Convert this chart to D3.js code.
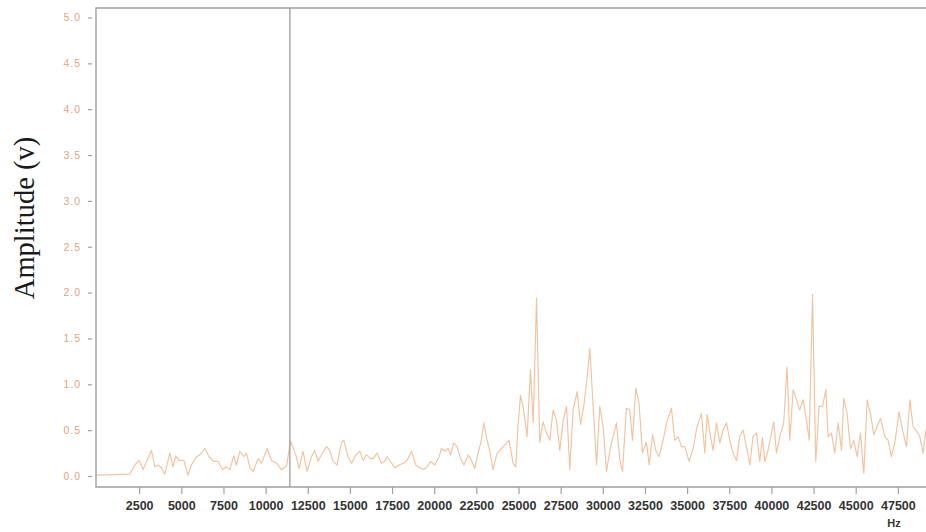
<!DOCTYPE html>
<html>
<head>
<meta charset="utf-8">
<script src="https://cdn.jsdelivr.net/npm/d3@7"></script>
<style>
  body { margin: 0; background: #fff; }
  svg { display: block; }
</style>
</head>
<body>
<svg id="chart" width="926" height="532"></svg>
<script>
// Spectrum samples: frequency (Hz) and amplitude (V)
const freqHz = [
  0, 1950, 2240, 2500, 2730, 3230, 3430, 3620, 3830, 4020, 4320, 4510, 4670, 4870, 5150, 5400,
  5600, 5900, 6100, 6390, 6650, 6930, 7180, 7440, 7680, 7880, 8110, 8270, 8470, 8710, 8870, 9060,
  9260, 9560, 9760, 10090, 10350, 10650, 10940, 11240, 11480, 11790, 11990, 12220, 12460, 12720,
  12920, 13110, 13370, 13610, 13810, 14000, 14240, 14500, 14640, 14890, 15100, 15350, 15590, 15780,
  15980, 16220, 16380, 16610, 16870, 17070, 17210, 17470, 17660, 17920, 18160, 18390, 18650, 18910,
  19150, 19340, 19540, 19780, 20040, 20290, 20430, 20630, 20820, 20970, 21160, 21360, 21560, 21760,
  22010, 22210, 22410, 22600, 22800, 22940, 23140, 23300, 23490, 23730, 23990, 24190, 24440, 24680,
  24840, 24980, 25120, 25270, 25510, 25710, 25870, 26070, 26260, 26460, 26660, 26860, 27050, 27250,
  27450, 27650, 27850, 28040, 28240, 28480, 28680, 28870, 29070, 29230, 29630, 29820, 30020, 30220,
  30460, 30810, 31010, 31170, 31400, 31600, 31760, 31960, 32150, 32350, 32590, 32750, 32950, 33140,
  33340, 33580, 33780, 34070, 34270, 34470, 34670, 34860, 35120, 35360, 35590, 35850, 36050, 36190,
  36390, 36540, 36740, 36940, 37130, 37340, 37530, 37730, 37930, 38120, 38320, 38520, 38720, 38910,
  39120, 39310, 39470, 39610, 39800, 40010, 40140, 40300, 40500, 40730, 40930, 41090, 41290, 41490,
  41680, 41880, 42080, 42240, 42440, 42630, 42830, 43030, 43230, 43360, 43560, 43760, 43960, 44160,
  44290, 44490, 44690, 44890, 45080, 45280, 45480, 45680, 45880, 46070, 46270, 46470, 46730, 46920,
  47120, 47320, 47570, 47780, 48010, 48210, 48400, 48610, 48800, 49000, 49160, 49350
];
const amplitude = [
  0.01, 0.02, 0.12, 0.17, 0.07, 0.28, 0.10, 0.12, 0.09, 0.02, 0.25, 0.10, 0.22, 0.17, 0.17, 0.01,
  0.12, 0.21, 0.23, 0.30, 0.21, 0.16, 0.16, 0.07, 0.10, 0.07, 0.22, 0.12, 0.27, 0.21, 0.25, 0.09,
  0.05, 0.19, 0.14, 0.30, 0.17, 0.14, 0.07, 0.11, 0.38, 0.23, 0.08, 0.27, 0.05, 0.21,
  0.28, 0.16, 0.25, 0.32, 0.28, 0.16, 0.12, 0.37, 0.39, 0.21, 0.14, 0.23, 0.27, 0.17,
  0.23, 0.19, 0.19, 0.25, 0.14, 0.16, 0.21, 0.14, 0.09, 0.12, 0.14, 0.17, 0.27, 0.12,
  0.09, 0.07, 0.09, 0.16, 0.12, 0.21, 0.30, 0.27, 0.30, 0.23, 0.36, 0.32, 0.19, 0.12,
  0.23, 0.17, 0.08, 0.25, 0.39, 0.58, 0.39, 0.27, 0.07, 0.25, 0.30, 0.34, 0.39, 0.14,
  0.10, 0.58, 0.88, 0.76, 0.43, 1.16, 0.58, 1.94, 0.37, 0.59, 0.47, 0.39, 0.72, 0.61,
  0.28, 0.61, 0.76, 0.07, 0.72, 0.92, 0.56, 0.76, 1.08, 1.39, 0.12, 0.76, 0.54, 0.05,
  0.32, 0.58, 0.17, 0.05, 0.74, 0.72, 0.39, 0.96, 0.79, 0.25, 0.37, 0.12, 0.45, 0.28,
  0.21, 0.39, 0.58, 0.74, 0.39, 0.43, 0.32, 0.32, 0.16, 0.30, 0.54, 0.68, 0.25, 0.67,
  0.43, 0.28, 0.58, 0.36, 0.50, 0.58, 0.39, 0.25, 0.17, 0.43, 0.50, 0.32, 0.12, 0.43,
  0.47, 0.16, 0.42, 0.16, 0.28, 0.47, 0.59, 0.25, 0.43, 0.58, 1.19, 0.39, 0.94, 0.83,
  0.72, 0.83, 0.61, 0.39, 1.98, 0.16, 0.76, 0.76, 0.94, 0.43, 0.47, 0.25, 0.58, 0.28,
  0.85, 0.68, 0.30, 0.39, 0.21, 0.47, 0.03, 0.83, 0.68, 0.45, 0.54, 0.63, 0.43, 0.39,
  0.21, 0.36, 0.70, 0.50, 0.32, 0.83, 0.54, 0.49, 0.43, 0.25, 0.50, 0.45
];

// Axis ticks
const xTickValues = [2500, 5000, 7500, 10000, 12500, 15000, 17500, 20000, 22500, 25000,
                     27500, 30000, 32500, 35000, 37500, 40000, 42500, 45000, 47500];
const yTickValues = [0, 0.5, 1, 1.5, 2, 2.5, 3, 3.5, 4, 4.5, 5];

// Cursor marker frequency
const markerHz = [11440];

const xLabel = "Hz";
const yLabel = "Amplitude (v)";

const svg = d3.select("#chart");

const frame = { left: 96, top: 8, bottom: 487, right: 945 };

const x = d3.scaleLinear().domain([0, 50000]).range([97, 940]);
const y = d3.scaleLinear().domain([0, 5]).range([476, 17.5]);

svg.append("defs").append("clipPath").attr("id", "plotClip")
  .append("rect")
  .attr("x", frame.left).attr("y", frame.top)
  .attr("width", frame.right - frame.left).attr("height", frame.bottom - frame.top);

// Plot frame (left, top, bottom)
svg.append("path")
  .attr("d", `M${frame.right},${frame.top}H${frame.left}V${frame.bottom}H${frame.right}`)
  .attr("fill", "none")
  .attr("stroke", "#a0a0a0")
  .attr("stroke-width", 1.4);

// Spectrum trace
const pts = freqHz.map((f, i) => [f, amplitude[i]]);
svg.append("path")
  .datum(pts)
  .attr("clip-path", "url(#plotClip)")
  .attr("fill", "none")
  .attr("stroke", "#f3c29f")
  .attr("stroke-width", 1.15)
  .attr("stroke-linejoin", "round")
  .attr("d", d3.line().x(d => x(d[0])).y(d => y(d[1])));

// Vertical cursor line
svg.selectAll("line.marker")
  .data(markerHz)
  .join("line")
  .attr("class", "marker")
  .attr("x1", d => x(d)).attr("x2", d => x(d))
  .attr("y1", frame.top).attr("y2", frame.bottom)
  .attr("stroke", "#939393")
  .attr("stroke-width", 1.2);

// X axis
const gx = svg.append("g")
  .attr("transform", `translate(0,${frame.bottom})`)
  .call(d3.axisBottom(x).tickValues(xTickValues).tickSize(7).tickPadding(7).tickFormat(d3.format("d")));
gx.select(".domain").remove();
gx.selectAll(".tick line").attr("stroke", "#a0a0a0").attr("stroke-width", 1.2);
gx.selectAll(".tick text")
  .attr("fill", "#333")
  .style("font-family", "'Liberation Sans', Arial, sans-serif")
  .style("font-size", "12.5px")
  .style("font-weight", "bold");

// Y axis
const gy = svg.append("g")
  .attr("transform", `translate(92,0)`)
  .call(d3.axisLeft(y).tickValues(yTickValues).tickSize(4).tickPadding(7).tickFormat(d3.format(".1f")));
gy.select(".domain").remove();
gy.selectAll(".tick line").attr("stroke", "#a0a0a0").attr("stroke-width", 1.2);
gy.selectAll(".tick text")
  .attr("fill", "#e6a47a")
  .style("font-family", "'Liberation Sans', Arial, sans-serif")
  .style("font-size", "10.5px")
  .style("letter-spacing", "1px");

// Axis titles
svg.append("text")
  .attr("x", 894).attr("y", 527)
  .attr("text-anchor", "middle")
  .attr("fill", "#333")
  .style("font-family", "'Liberation Sans', Arial, sans-serif")
  .style("font-size", "11px")
  .style("font-weight", "bold")
  .text(xLabel);

svg.append("text")
  .attr("transform", "translate(34,218) rotate(-90)")
  .attr("text-anchor", "middle")
  .attr("fill", "#1a1a1a")
  .style("font-family", "'Liberation Serif', 'Times New Roman', serif")
  .style("font-size", "28.5px")
  .text(yLabel);
</script>
</body>
</html>
